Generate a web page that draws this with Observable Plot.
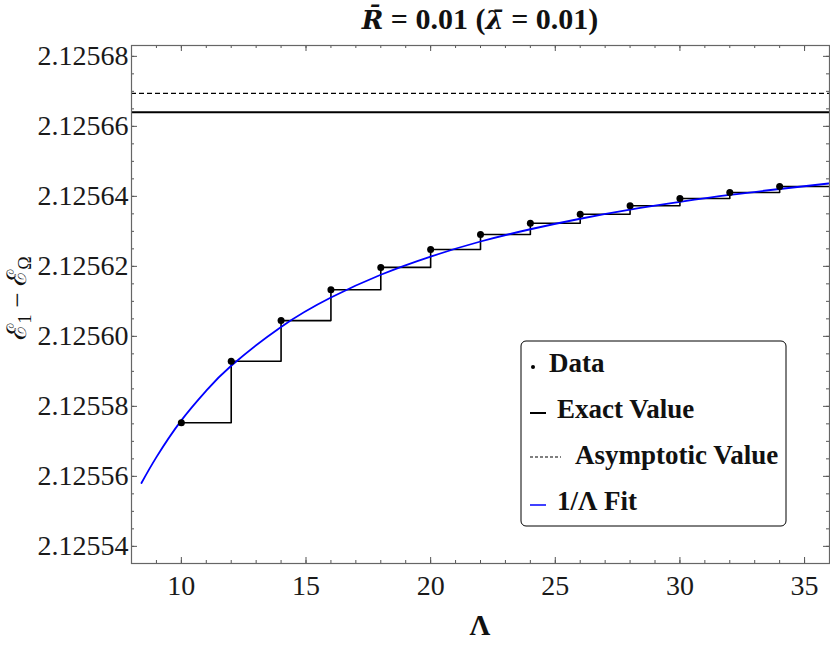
<!DOCTYPE html>
<html>
<head>
<meta charset="utf-8">
<script src="https://cdn.jsdelivr.net/npm/d3@7"></script>
<script src="https://cdn.jsdelivr.net/npm/@observablehq/plot@0.6"></script>
<style>
  html, body { margin: 0; padding: 0; background: #fff; }
  #chart { width: 830px; height: 645px; }
  #chart svg text { font-family: "Liberation Serif"; }
</style>
</head>
<body>
<div id="chart"></div>
<script>
// ---- Data ----
const lambdaValues = [10, 12, 14, 16, 18, 20, 22, 24, 26, 28, 30, 32, 34];
const energyValues = [2.1255753, 2.1255929, 2.1256045, 2.1256133, 2.1256197, 2.1256248,
                      2.1256291, 2.1256323, 2.1256349, 2.1256373, 2.1256394, 2.1256411, 2.1256428];
const fitLambda = [8.4, 9, 10, 11, 12, 14, 16, 18, 20, 22, 24, 26, 28, 30, 32, 34, 36];
const fitEnergy = [2.1255581, 2.1255655, 2.1255760, 2.1255845, 2.1255916, 2.1256027, 2.1256111,
                   2.1256176, 2.1256228, 2.1256271, 2.1256306, 2.1256336, 2.1256362, 2.1256384,
                   2.1256404, 2.1256421, 2.1256437];
const exactValue = [2.125664];
const asymptoticValue = [2.1256694];
const xDomain = [8, 36];
const yDomain = [2.1255351, 2.1256831];
const xMajorTicks = [10, 15, 20, 25, 30, 35];
const yMajorTicks = [2.12554, 2.12556, 2.12558, 2.12560, 2.12562, 2.12564, 2.12566, 2.12568];
const legendLabels = ["Data", "Exact Value", "Asymptotic Value", "1/Λ Fit"];

// ---- Layout ----
const W = 830, H = 645;
const mTop = 45, mBottom = 82, mLeft = 131, mRight = 1;
const plotH = H - mTop - mBottom, plotW = W - mLeft - mRight;
const FONT = "Liberation Serif";

const points = lambdaValues.map((x, i) => ({x, y: energyValues[i]}));
const stepData = points.concat([{x: xDomain[1], y: energyValues[energyValues.length - 1]}]);
const fit = fitLambda.map((x, i) => ({x, y: fitEnergy[i]}));
const xMinorTicks = d3.range(xDomain[0], xDomain[1] + 1, 1);
const yMinorTicks = d3.range(0, 40).map(i => yMajorTicks[0] - 0.000005 + i * 0.000005)
  .filter(v => v > yDomain[0] && v < yDomain[1]);

const tickColor = "#555";
const major = 6, minor = 3;

const chart = Plot.plot({
  width: W, height: H,
  marginTop: mTop, marginBottom: mBottom, marginLeft: mLeft, marginRight: mRight,
  style: {fontFamily: FONT, fontSize: "28px", color: "#1a1a1a", background: "#fff"},
  x: {domain: xDomain},
  y: {domain: yDomain},
  marks: [
    Plot.axisX({ticks: xMajorTicks, tickSize: 0, tickPadding: 12, label: null, fontSize: 28}),
    Plot.axisY({ticks: yMajorTicks, tickSize: 0, tickPadding: 3, label: null, fontSize: 28,
                tickFormat: d3.format(".5f")}),
    // inward ticks (bottom / top)
    Plot.ruleX(xMinorTicks, {stroke: tickColor, strokeWidth: 1, insetTop: plotH - minor}),
    Plot.ruleX(xMajorTicks, {stroke: tickColor, strokeWidth: 1, insetTop: plotH - major}),
    Plot.ruleX(xMinorTicks, {stroke: tickColor, strokeWidth: 1, insetBottom: plotH - minor}),
    Plot.ruleX(xMajorTicks, {stroke: tickColor, strokeWidth: 1, insetBottom: plotH - major}),
    // inward ticks (left / right)
    Plot.ruleY(yMinorTicks, {stroke: tickColor, strokeWidth: 1, insetRight: plotW - minor}),
    Plot.ruleY(yMajorTicks, {stroke: tickColor, strokeWidth: 1, insetRight: plotW - major}),
    Plot.ruleY(yMinorTicks, {stroke: tickColor, strokeWidth: 1, insetLeft: plotW - minor}),
    Plot.ruleY(yMajorTicks, {stroke: tickColor, strokeWidth: 1, insetLeft: plotW - major}),
    // reference lines
    Plot.ruleY(exactValue, {stroke: "black", strokeWidth: 2}),
    Plot.ruleY(asymptoticValue, {stroke: "black", strokeWidth: 1.3, strokeDasharray: "5,3"}),
    // step line & data
    Plot.line(stepData, {x: "x", y: "y", curve: "step-after", stroke: "black", strokeWidth: 1.6, clip: true}),
    Plot.line(fit, {x: "x", y: "y", curve: "natural", stroke: "#0000ff", strokeWidth: 1.8, clip: true}),
    Plot.dot(points, {x: "x", y: "y", r: 3.5, fill: "black"}),
    Plot.frame({stroke: "#666", strokeWidth: 1.2})
  ]
});

document.getElementById("chart").appendChild(chart);
const svg = d3.select(chart);
svg.selectAll("text").attr("font-family", FONT);

// Title
const title = svg.append("text")
  .attr("x", mLeft + plotW / 2).attr("y", 29)
  .attr("text-anchor", "middle")
  .attr("font-family", FONT).attr("font-size", 30).attr("font-weight", "bold")
  .attr("fill", "#111");
title.append("tspan").attr("font-style", "italic").attr("font-family", "DejaVu Serif").attr("font-size", 26).text("R\u0304");
title.append("tspan").text(" = 0.01 (");
title.append("tspan").attr("font-style", "italic").attr("font-family", "DejaVu Serif").attr("font-size", 26).text("\u03BB\u0304");
title.append("tspan").text(" = 0.01)");

// X label
svg.append("text")
  .attr("x", mLeft + plotW / 2).attr("y", 635)
  .attr("text-anchor", "middle")
  .attr("font-family", FONT).attr("font-size", 29).attr("font-weight", "bold")
  .attr("fill", "#111").text("Λ");

// Y label
const yl = svg.append("text")
  .attr("transform", `translate(26, ${mTop + plotH / 2 - 6}) rotate(-90)`)
  .attr("text-anchor", "middle")
  .attr("font-family", FONT).attr("font-size", 27)
  .attr("fill", "#111");
yl.append("tspan").text("ℰ");
yl.append("tspan").attr("font-size", 18).attr("dy", 5).text("1");
yl.append("tspan").attr("dy", -5).text(" − ℰ");
yl.append("tspan").attr("font-size", 18).attr("dy", 5).text("Ω");

// Legend
const lg = svg.append("g").attr("font-family", FONT).attr("font-weight", "bold")
  .attr("font-size", 27).attr("text-anchor", "start").attr("fill", "#111");
lg.append("rect").attr("x", 521).attr("y", 341).attr("width", 265).attr("height", 185)
  .attr("rx", 5).attr("fill", "white").attr("stroke", "black").attr("stroke-width", 1);
const rows = [363, 409, 455, 501];
// Data
lg.append("circle").attr("cx", 533).attr("cy", rows[0] + 4).attr("r", 2).attr("fill", "black");
lg.append("text").attr("x", 549).attr("y", rows[0] + 9).attr("font-family", FONT).text(legendLabels[0]);
// Exact
lg.append("line").attr("x1", 530).attr("x2", 546).attr("y1", rows[1] + 4).attr("y2", rows[1] + 4)
  .attr("stroke", "black").attr("stroke-width", 2);
lg.append("text").attr("x", 557).attr("y", rows[1] + 9).attr("font-family", FONT).text(legendLabels[1]);
// Asymptotic
lg.append("line").attr("x1", 530).attr("x2", 561).attr("y1", rows[2] + 2).attr("y2", rows[2] + 2)
  .attr("stroke", "black").attr("stroke-width", 1.2).attr("stroke-dasharray", "3,2");
lg.append("text").attr("x", 575).attr("y", rows[2] + 9).attr("font-family", FONT).text(legendLabels[2]);
// Fit
lg.append("line").attr("x1", 530).attr("x2", 546).attr("y1", rows[3] + 4).attr("y2", rows[3] + 4)
  .attr("stroke", "#0000ff").attr("stroke-width", 1.5);
lg.append("text").attr("x", 557).attr("y", rows[3] + 9).attr("font-family", FONT).text(legendLabels[3]);
</script>
</body>
</html>
